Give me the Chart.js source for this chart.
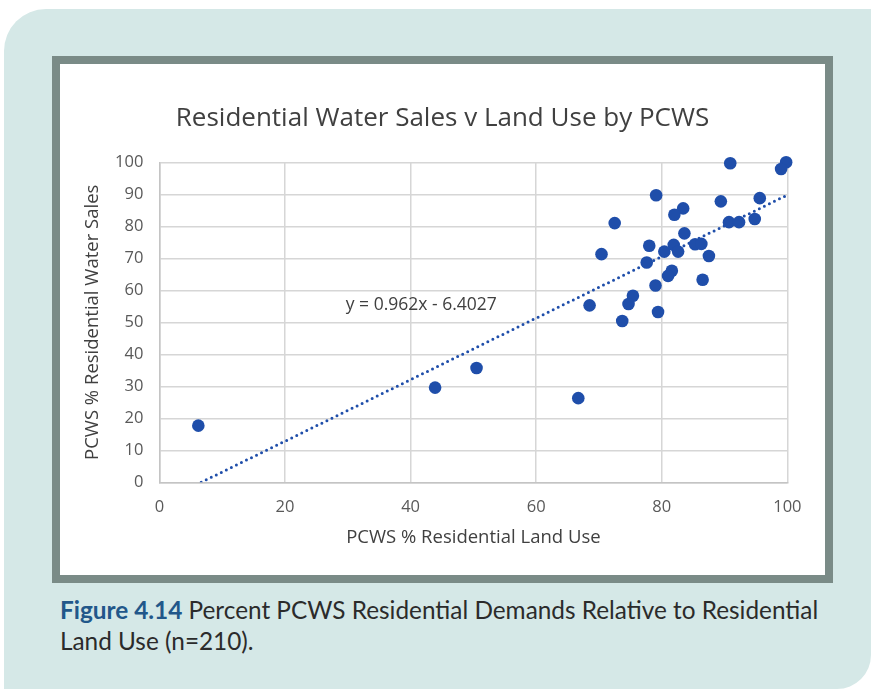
<!DOCTYPE html>
<html>
<head>
<meta charset="utf-8">
<script src="https://cdn.jsdelivr.net/npm/chart.js@4.4.1/dist/chart.umd.min.js"></script>
<style>
  html, body { margin: 0; padding: 0; background: #ffffff; }
  body { width: 871px; height: 689px; position: relative; overflow: hidden; font-family: Lato, "Open Sans", sans-serif; }
  .panel {
    position: absolute; left: 4px; top: 9px; width: 900px; height: 700px;
    background: #d5e8e7; border-top-left-radius: 42px;
  }
  .panel-corner {
    position: absolute; left: 0; top: 0; width: 871px; height: 689px; pointer-events: none;
  }
  .frame {
    position: absolute; left: 52px; top: 56px; width: 765px; height: 511px;
    border: 8px solid #7a8b87; background: #ffffff;
  }
  .frame canvas { display: block; }
  .caption {
    position: absolute; left: 60px; top: 594px; width: 800px; white-space: nowrap;
    font-size: 24.35px; line-height: 31px; color: #2b2b2b;
  }
  .caption b { color: #22578a; font-weight: 700; }
</style>
</head>
<body>
<div class="panel"></div>
<svg class="panel-corner" width="871" height="689">
  <path d="M871 655 A 34 34 0 0 1 837 689 L 871 689 Z" fill="#ffffff"/>
</svg>
<div class="frame"><canvas id="chart" width="765" height="511"></canvas></div>
<div class="caption"><b>Figure 4.14</b> Percent PCWS Residential Demands Relative to Residential<br>Land Use (n=210).</div>

<script>
// PCWS % residential land use (x) and % residential water sales (y)
const landUse = [
  6.2, 43.9, 50.5, 66.7, 68.5, 90.9, 99.8, 99.0, 79.1, 95.6,
  89.4, 83.4, 82.0, 72.5, 90.7, 92.3, 94.8, 83.6, 78.0, 81.9,
  85.3, 86.3, 80.4, 82.6, 70.4, 87.5, 77.6, 81.6, 81.0, 86.5,
  79.0, 75.4, 74.7, 79.4, 73.7
];
const waterSales = [
  17.7, 29.6, 35.7, 26.3, 55.3, 99.7, 100.0, 97.9, 89.7, 88.8,
  87.8, 85.6, 83.6, 81.0, 81.3, 81.3, 82.3, 77.8, 73.9, 74.2,
  74.4, 74.5, 72.1, 72.1, 71.3, 70.7, 68.7, 66.1, 64.5, 63.3,
  61.5, 58.3, 55.7, 53.2, 50.4
];

// Linear trendline coefficients, y = slope * x + intercept
const trendSlope = 0.962;
const trendIntercept = -6.4027;
const trendLabel = 'y = 0.962x - 6.4027';

const xTicks = [0, 20, 40, 60, 80, 100];
const yTicks = [0, 10, 20, 30, 40, 50, 60, 70, 80, 90, 100];

const pointColor = '#1f4eaa';
const gridColor = '#d6d6d6';
const fontFamily = '"Open Sans", Lato, sans-serif';

const scatterPoints = landUse.map((x, i) => ({ x: x, y: waterSales[i] }));
// trendline runs from where it crosses y = 0 to the right edge of the axis
const trendStart = -trendIntercept / trendSlope;
const trendPoints = [trendStart, 100].map(x => ({ x: x, y: trendSlope * x + trendIntercept }));

const equationLabel = {
  id: 'equationLabel',
  afterDatasetsDraw(chart) {
    const { ctx, scales } = chart;
    ctx.save();
    ctx.font = '17.5px ' + fontFamily;
    ctx.fillStyle = '#404040';
    ctx.textAlign = 'center';
    ctx.textBaseline = 'middle';
    ctx.fillText(trendLabel, scales.x.getPixelForValue(41.7), scales.y.getPixelForValue(55.4));
    ctx.restore();
  }
};

new Chart(document.getElementById('chart'), {
  type: 'scatter',
  data: {
    datasets: [
      {
        label: 'PCWS',
        data: scatterPoints,
        backgroundColor: pointColor,
        borderColor: pointColor,
        pointRadius: 6.3,
        pointHoverRadius: 6.3,
        borderWidth: 0,
        clip: false,
        order: 1
      },
      {
        label: 'Linear trend',
        type: 'line',
        data: trendPoints,
        borderColor: pointColor,
        borderWidth: 3,
        borderDash: [0, 5.6],
        borderCapStyle: 'round',
        pointRadius: 0,
        fill: false,
        order: 2
      }
    ]
  },
  options: {
    responsive: false,
    animation: false,
    events: [],
    layout: { padding: 0 },
    plugins: {
      legend: { display: false },
      tooltip: { enabled: false },
      title: {
        display: true,
        text: 'Residential Water Sales v Land Use by PCWS',
        color: '#404040',
        font: { family: fontFamily, size: 26, weight: 'normal' },
        padding: { top: 39.4, bottom: 27.7 }
      }
    },
    scales: {
      x: {
        type: 'linear',
        min: 0,
        max: 100,
        afterBuildTicks: axis => { axis.ticks = xTicks.map(v => ({ value: v })); },
        afterFit: axis => { axis.height = 92.7; },
        grid: { color: gridColor, lineWidth: 1.5, drawTicks: false },
        border: { color: '#c4c4c4', width: 1.5 },
        ticks: { color: '#595959', font: { family: fontFamily, size: 16.5 }, padding: 15, maxRotation: 0 },
        title: {
          display: true,
          text: 'PCWS % Residential Land Use',
          color: '#404040',
          font: { family: fontFamily, size: 18.5 },
          padding: { top: 0, bottom: 25.9 }
        }
      },
      y: {
        type: 'linear',
        min: 0,
        max: 100,
        afterBuildTicks: axis => { axis.ticks = yTicks.map(v => ({ value: v })); },
        afterFit: axis => { axis.width = 99.4; },
        grid: { color: gridColor, lineWidth: 1.5, drawTicks: false },
        border: { color: '#c4c4c4', width: 1.5 },
        ticks: { color: '#595959', font: { family: fontFamily, size: 16.5 }, padding: 16 },
        title: {
          display: true,
          text: 'PCWS % Residential Water Sales',
          color: '#404040',
          font: { family: fontFamily, size: 18.5 },
          padding: { top: 21.9, bottom: 0 }
        }
      },
      // empty right-hand gutter so the plot ends short of the frame while the title stays centred
      gutter: {
        type: 'linear',
        position: 'right',
        min: 0,
        max: 100,
        afterFit: axis => { axis.width = 37.6; },
        grid: { display: false },
        border: { display: false },
        ticks: { display: false }
      }
    }
  },
  plugins: [equationLabel]
});
</script>
</body>
</html>
